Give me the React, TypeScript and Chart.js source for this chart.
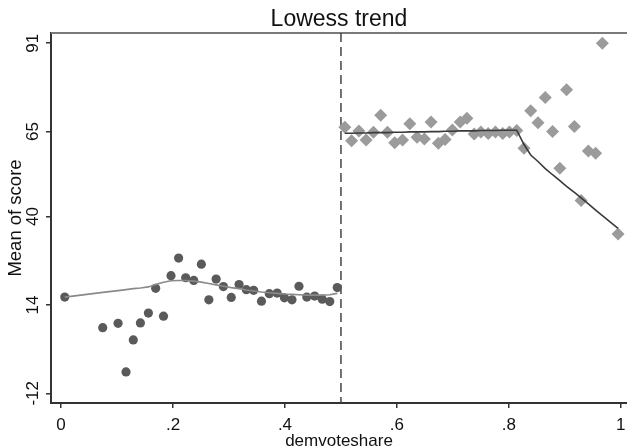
import React, { useEffect, useRef } from 'react';
import { Chart, registerables } from 'chart.js';

Chart.register(...registerables);

// ---- Data ----
const CUTOFF = 0.5;

const leftShare = [0.0066, 0.0744, 0.1018, 0.116, 0.129, 0.1417, 0.156, 0.169, 0.183, 0.1964, 0.21, 0.2226, 0.237, 0.2506, 0.264, 0.277, 0.29, 0.304, 0.318, 0.331, 0.344, 0.358, 0.372, 0.386, 0.399, 0.4125, 0.425, 0.439, 0.453, 0.4666, 0.48, 0.4934];
const leftScore = [16.3, 7.3, 8.6, -5.7, 3.7, 8.7, 11.6, 18.9, 10.7, 22.6, 27.8, 22.0, 21.2, 26.0, 15.5, 21.6, 19.4, 16.2, 20.0, 18.5, 18.3, 15.1, 17.3, 17.5, 16.1, 15.5, 19.5, 16.3, 16.6, 15.7, 15.0, 19.1];
const leftLowess = [16.3, 17.7, 18.2, 18.5, 18.8, 19.0, 19.3, 20.0, 20.7, 21.1, 21.2, 21.2, 21.0, 20.7, 20.3, 19.9, 19.5, 19.1, 18.8, 18.4, 18.1, 17.8, 17.6, 17.4, 17.2, 17.1, 17.0, 16.9, 16.9, 16.9, 17.0, 17.4];

const rightShare = [0.507, 0.519, 0.532, 0.545, 0.558, 0.571, 0.583, 0.596, 0.61, 0.623, 0.636, 0.649, 0.661, 0.674, 0.686, 0.699, 0.713, 0.725, 0.738, 0.75, 0.763, 0.776, 0.789, 0.801, 0.814, 0.827, 0.839, 0.852, 0.865, 0.878, 0.891, 0.903, 0.917, 0.929, 0.942, 0.955, 0.967, 0.995];
const rightScore = [66.3, 62.3, 65.2, 62.5, 64.8, 69.8, 64.8, 61.7, 62.5, 67.3, 63.3, 62.8, 67.8, 61.6, 62.7, 65.5, 67.8, 68.9, 64.3, 64.9, 64.4, 64.9, 64.4, 64.9, 65.3, 60.1, 71.1, 67.6, 75.0, 65.0, 54.2, 77.3, 66.5, 44.7, 59.3, 58.6, 91.0, 34.9];
const rightLowess = [64.5, 64.5, 64.6, 64.6, 64.7, 64.7, 64.7, 64.8, 64.8, 64.9, 64.9, 64.9, 65.0, 65.0, 65.1, 65.1, 65.2, 65.2, 65.2, 65.3, 65.3, 65.3, 65.4, 65.4, 65.4, 61.2, 58.1, 56.2, 54.1, 52.3, 50.6, 48.9, 47.1, 45.5, 43.7, 41.9, 40.3, 36.5];

const xTicks = [0, 0.2, 0.4, 0.6, 0.8, 1];
const yTicks = [-12, 14, 40, 65, 91];

const TITLE = 'Lowess trend';
const X_TITLE = 'demvoteshare';
const Y_TITLE = 'Mean of score';

const FONT = '"Liberation Sans", Arial, sans-serif';

const pts = (xs: number[], ys: number[]) => xs.map((x, i) => ({ x, y: ys[i] }));
const fmtX = (v: number) => (v === 0 ? '0' : v === 1 ? '1' : String(v).replace(/^0\./, '.'));

const decorPlugin = {
  id: 'decor',
  beforeDatasetsDraw(chart: any) {
    const { ctx, chartArea: a, scales } = chart;
    ctx.save();
    // top frame line
    ctx.strokeStyle = '#7a7a7a';
    ctx.lineWidth = 2;
    ctx.beginPath();
    ctx.moveTo(a.left, a.top);
    ctx.lineTo(chart.width, a.top);
    ctx.stroke();
    // cutoff dashed line
    const cx = scales.x.getPixelForValue(CUTOFF);
    ctx.strokeStyle = '#444';
    ctx.lineWidth = 1.5;
    ctx.setLineDash([9, 5]);
    ctx.beginPath();
    ctx.moveTo(cx, a.top);
    ctx.lineTo(cx, a.bottom);
    ctx.stroke();
    ctx.restore();
  },
  afterDraw(chart: any) {
    const { ctx, chartArea: a, scales } = chart;
    const midX = (a.left + a.right) / 2;
    const midY = (a.top + a.bottom) / 2;
    ctx.save();
    ctx.fillStyle = '#111';
    // title
    ctx.font = `23px ${FONT}`;
    ctx.textAlign = 'center';
    ctx.textBaseline = 'alphabetic';
    ctx.fillText(TITLE, midX, a.top - 7);
    // x tick labels
    ctx.font = `17px ${FONT}`;
    for (const t of scales.x.ticks) {
      const px = scales.x.getPixelForValue(t.value);
      ctx.fillText(fmtX(t.value), px, a.bottom + 27);
    }
    // y tick labels (rotated)
    for (const t of scales.y.ticks) {
      const py = scales.y.getPixelForValue(t.value);
      ctx.save();
      ctx.translate(a.left - 13.5, py);
      ctx.rotate(-Math.PI / 2);
      ctx.fillText(String(t.value), 0, 0);
      ctx.restore();
    }
    // x title
    ctx.font = `17px ${FONT}`;
    ctx.fillText(X_TITLE, midX, a.bottom + 43);
    // y title
    ctx.font = `18.5px ${FONT}`;
    ctx.save();
    ctx.translate(a.left - 30, midY);
    ctx.rotate(-Math.PI / 2);
    ctx.fillText(Y_TITLE, 0, 0);
    ctx.restore();
    ctx.restore();
  },
};

export default function App() {
  const ref = useRef<HTMLCanvasElement>(null);
  useEffect(() => {
    if (!ref.current) return;
    const chart = new Chart(ref.current, {
      type: 'scatter',
      data: {
        datasets: [
          {
            label: 'lowess left',
            data: pts(leftShare, leftLowess),
            showLine: true,
            borderColor: '#8a8a8a',
            borderWidth: 1.6,
            pointRadius: 0,
            fill: false,
          } as any,
          {
            label: 'lowess right',
            data: pts(rightShare, rightLowess),
            showLine: true,
            borderColor: '#3a3a3a',
            borderWidth: 1.6,
            pointRadius: 0,
            fill: false,
          },
          {
            label: 'left',
            data: pts(leftShare, leftScore),
            pointStyle: 'circle',
            pointRadius: 4.6,
            backgroundColor: '#5a5a5a',
            borderWidth: 0,
          },
          {
            label: 'right',
            data: pts(rightShare, rightScore),
            pointStyle: 'rectRot',
            pointRadius: 6.5,
            backgroundColor: '#9b9b9b',
            borderWidth: 0,
          },
        ],
      },
      options: {
        responsive: false,
        animation: false,
        events: [],
        layout: { autoPadding: false, padding: { left: 51, top: 33, right: 0, bottom: 44 } },
        plugins: { legend: { display: false }, tooltip: { enabled: false }, title: { display: false } },
        scales: {
          x: {
            type: 'linear',
            min: -0.018,
            max: 1.011,
            afterBuildTicks: (s: any) => {
              s.ticks = xTicks.map((v) => ({ value: v }));
            },
            afterFit: (s: any) => {
              s.height = 0;
            },
            ticks: { display: false },
            grid: { drawOnChartArea: false, drawTicks: true, tickLength: 5, color: '#333', lineWidth: 1.5 },
            border: { display: true, color: '#333', width: 2 },
          },
          y: {
            type: 'linear',
            min: -14.85,
            max: 94,
            afterBuildTicks: (s: any) => {
              s.ticks = yTicks.map((v) => ({ value: v }));
            },
            afterFit: (s: any) => {
              s.width = 0;
            },
            ticks: { display: false },
            grid: { drawOnChartArea: false, drawTicks: true, tickLength: 5, color: '#333', lineWidth: 1.5 },
            border: { display: true, color: '#333', width: 2 },
          },
        },
      } as any,
      plugins: [decorPlugin],
    });
    return () => chart.destroy();
  }, []);
  return (
    <div style={{ position: 'fixed', left: 0, top: 0, width: 627, height: 447, background: '#fff' }}>
      <canvas ref={ref} width={627} height={447} style={{ display: 'block' }} />
    </div>
  );
}
